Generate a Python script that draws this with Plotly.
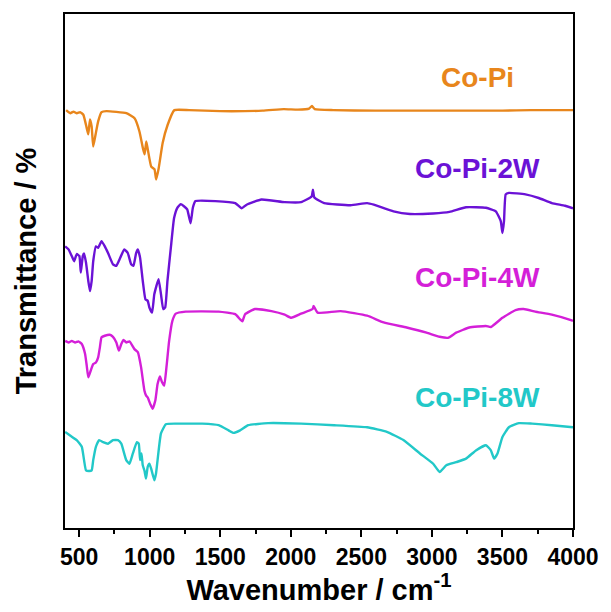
import plotly.graph_objects as go

# ---- data (wavenumber in cm^-1, transmittance in offset arbitrary units) ----
copi_wn = [408, 437, 460, 484, 507, 530, 554, 565, 577, 589, 600, 617, 635, 659, 694, 835, 893, 928,
           952, 964, 976, 987, 1011, 1034, 1046, 1064, 1092, 1127, 1175, 1280, 1500, 1800, 1950, 2050,
           2130, 2150, 2170, 2300, 2600, 3000, 3500, 3700, 4000]
copi_t = [81.3, 80.7, 81.0, 80.7, 80.9, 80.4, 77.8, 76.6, 79.5, 78.1, 74.2, 76.6, 79.1, 80.9, 81.1, 80.7,
          79.7, 77.1, 73.9, 72.7, 75.2, 73.6, 70.3, 69.8, 67.8, 70.0, 74.9, 78.4, 81.3, 81.3, 81.1, 81.2,
          81.5, 81.4, 81.6, 82.1, 81.5, 81.3, 81.2, 81.2, 81.2, 81.3, 81.3]

copi2w_wn = [401, 425, 448, 465, 483, 502, 512, 526, 535, 549, 565, 577, 589, 600, 619, 635, 659, 682,
             705, 740, 764, 787, 820, 845, 869, 885, 904, 916, 932, 951, 970, 986, 998, 1017, 1033, 1063,
             1080, 1096, 1110, 1126, 1150, 1173, 1196, 1220, 1243, 1266, 1290, 1306, 1325, 1466, 1606,
             1652, 1687, 1792, 1957, 2073, 2148, 2157, 2167, 2237, 2424, 2541, 2588, 2728, 2845, 3009,
             3125, 3242, 3383, 3453, 3488, 3500, 3511, 3523, 3546, 3663, 3757, 3850, 3943, 4000]
copi2w_t = [54.8, 54.2, 52.9, 51.9, 53.3, 52.9, 49.7, 52.9, 53.4, 51.6, 48.1, 46.1, 48.1, 51.9, 54.8,
            54.5, 55.8, 54.8, 53.5, 51.3, 51.0, 52.3, 54.2, 53.5, 51.3, 51.0, 53.5, 54.2, 52.6, 48.1,
            44.5, 44.2, 42.9, 41.9, 45.5, 48.4, 45.5, 42.6, 42.9, 48.1, 54.5, 60.3, 62.3, 63.0, 62.6,
            62.0, 59.3, 62.3, 63.6, 63.6, 63.2, 62.2, 62.9, 63.9, 63.4, 63.4, 64.5, 65.8, 64.3, 63.2,
            62.8, 63.2, 62.9, 61.6, 61.1, 61.2, 61.5, 62.4, 62.3, 61.6, 59.7, 57.4, 59.7, 64.9, 65.2,
            64.9, 64.2, 63.2, 62.7, 62.2]

copi4w_wn = [401, 425, 448, 472, 495, 519, 542, 554, 565, 582, 600, 619, 635, 647, 659, 682, 717, 740,
             764, 782, 799, 815, 834, 857, 892, 916, 939, 963, 974, 986, 1003, 1021, 1040, 1056, 1073,
             1087, 1103, 1119, 1138, 1161, 1185, 1255, 1489, 1606, 1641, 1657, 1676, 1746, 1863, 1957,
             2003, 2073, 2155, 2162, 2190, 2354, 2541, 2658, 2821, 2962, 3055, 3114, 3172, 3265, 3383,
             3418, 3500, 3593, 3651, 3733, 3850, 3991, 4000]
copi4w_t = [36.4, 36.1, 36.4, 36.1, 36.3, 35.8, 33.9, 31.6, 29.3, 30.6, 31.9, 32.2, 33.2, 35.1, 37.1,
            37.4, 37.6, 37.2, 36.1, 34.5, 35.8, 36.6, 36.1, 36.3, 34.8, 34.2, 31.3, 26.7, 25.8, 25.4,
            24.2, 23.2, 24.8, 28.0, 29.5, 28.4, 27.7, 31.3, 36.4, 40.3, 41.7, 42.1, 42.1, 41.6, 40.6,
            40.2, 41.6, 42.6, 42.2, 41.5, 40.9, 41.7, 42.6, 43.2, 41.9, 42.2, 41.3, 40.0, 39.0, 38.0,
            37.2, 37.0, 38.0, 39.0, 39.3, 39.1, 40.9, 42.4, 42.6, 42.1, 41.5, 40.4, 40.3]

copi8w_wn = [401, 436, 483, 519, 535, 549, 572, 589, 600, 619, 642, 670, 705, 740, 775, 799, 834, 857,
             881, 909, 923, 932, 942, 951, 963, 974, 986, 998, 1010, 1033, 1045, 1056, 1080, 1115, 1208,
             1278, 1372, 1489, 1559, 1594, 1641, 1699, 1840, 2073, 2307, 2541, 2681, 2798, 2915, 3009,
             3055, 3102, 3172, 3242, 3312, 3383, 3418, 3441, 3465, 3500, 3546, 3616, 3710, 3850, 4000]
copi8w_t = [18.7, 18.0, 17.1, 15.8, 13.2, 11.2, 11.1, 11.2, 13.2, 15.8, 17.1, 16.7, 16.4, 17.1, 17.1,
            16.4, 13.2, 12.5, 14.5, 16.7, 16.4, 13.2, 14.5, 12.2, 11.2, 9.6, 11.9, 12.5, 11.6, 9.3, 10.6,
            13.2, 18.4, 20.2, 20.3, 20.3, 20.3, 20.0, 19.0, 18.5, 19.0, 20.0, 20.4, 20.3, 20.0, 19.6,
            18.7, 17.1, 14.5, 12.5, 10.9, 12.2, 12.8, 13.5, 15.1, 16.1, 15.1, 13.5, 14.5, 17.7, 19.6,
            20.4, 20.3, 20.0, 19.6]

series_names = ["Co-Pi", "Co-Pi-2W", "Co-Pi-4W", "Co-Pi-8W"]
series_colors = ["#E8861C", "#6B12D6", "#D41FD8", "#22C8C8"]
label_wn = [3320, 3320, 3320, 3320]
label_t = [87.6, 70.0, 48.8, 25.4]

x_tick_vals = [500, 1000, 1500, 2000, 2500, 3000, 3500, 4000]
x_tick_text = ["500", "1000", "1500", "2000", "2500", "3000", "3500", "4000"]
x_minor_vals = [750, 1250, 1750, 2250, 2750, 3250, 3750]

# ---- figure ----
FONT = "Liberation Sans, Arial"
fig = go.Figure()
all_x = [copi_wn, copi2w_wn, copi4w_wn, copi8w_wn]
all_y = [copi_t, copi2w_t, copi4w_t, copi8w_t]
for name, xs, ys, col in zip(series_names, all_x, all_y, series_colors):
    fig.add_trace(go.Scatter(x=xs, y=ys, mode="lines", name=name,
                             line=dict(color=col, width=2.4, shape="spline", smoothing=0.4),
                             showlegend=False))

for name, lx, ly, col in zip(series_names, label_wn, label_t, series_colors):
    fig.add_annotation(x=lx, y=ly, text=name, showarrow=False, xanchor="center", yanchor="middle",
                       font=dict(family=FONT, size=28, color=col, weight="bold"))

fig.update_layout(
    width=611, height=612,
    margin=dict(l=65, r=33, t=12, b=84),
    paper_bgcolor="white", plot_bgcolor="white",
    xaxis=dict(range=[400, 4000], tickvals=x_tick_vals, ticktext=x_tick_text,
               ticks="outside", ticklen=7, tickwidth=1.5, tickcolor="black",
               minor=dict(tickvals=x_minor_vals, ticks="outside",
                          ticklen=4, tickwidth=1.5, tickcolor="black"),
               showline=True, linecolor="black", linewidth=1.8, mirror=True,
               showgrid=False, zeroline=False,
               tickfont=dict(family=FONT, size=23, color="black", weight="bold"),
               title=dict(text="Wavenumber / cm<sup>-1</sup>", standoff=4,
                          font=dict(family=FONT, size=29, color="black", weight="bold"))),
    yaxis=dict(range=[0, 100], showticklabels=False, ticks="",
               showline=True, linecolor="black", linewidth=1.8, mirror=True,
               showgrid=False, zeroline=False,
               title=dict(text="Transmittance / %", standoff=18,
                          font=dict(family=FONT, size=29, color="black", weight="bold"))),
)

fig.write_html("out.html")
